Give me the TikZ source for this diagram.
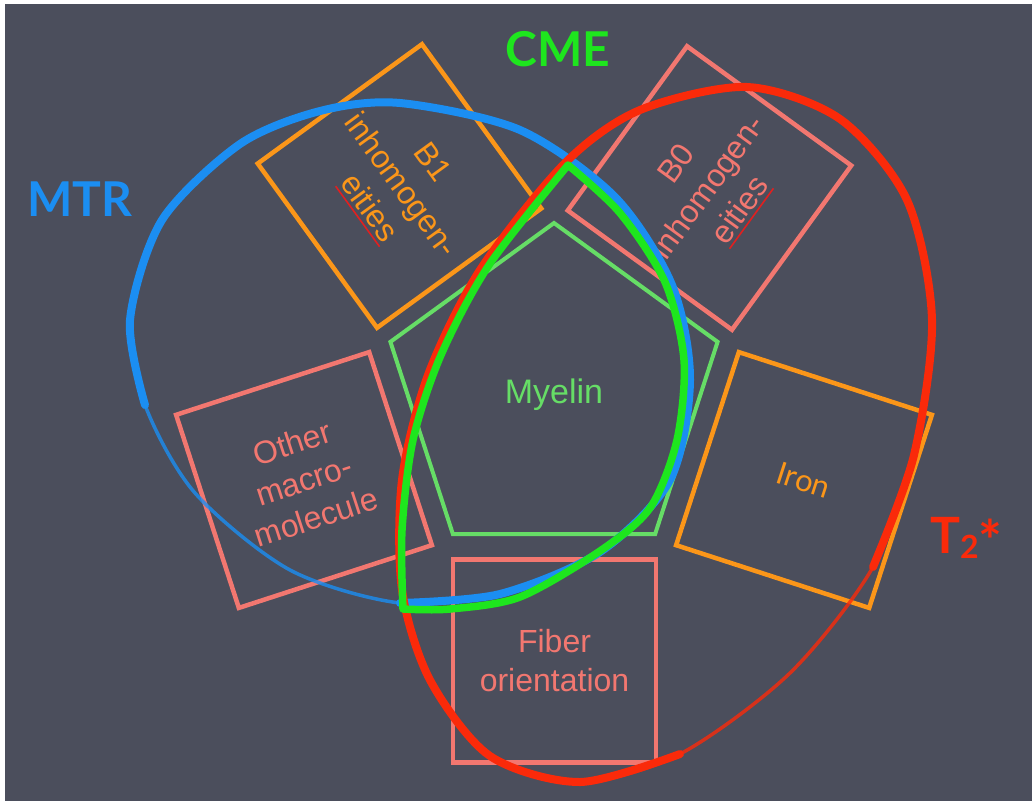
\documentclass[tikz,border=0pt]{standalone}
\usepackage{fontspec}
\setmainfont{Liberation Sans}
\newfontfamily\titlefont{Lato}
\usetikzlibrary{shapes.geometric}
\definecolor{board}{HTML}{4B4E5C}
\definecolor{mtrblue}{HTML}{1B8EF2}
\definecolor{t2red}{HTML}{FA2A0A}
\definecolor{cmegreen}{HTML}{1EE61E}
\definecolor{myelingreen}{HTML}{66DD66}
\definecolor{chalkorange}{HTML}{FB9619}
\definecolor{salmon}{HTML}{F27770}
\definecolor{spellred}{HTML}{E02020}
\newcommand\spellul[1]{\setbox0\hbox{#1}\rlap{\color{spellred}\rule[-0.16em]{\wd0}{0.05em}}#1}
\tikzset{
  sqbox/.style={draw, line width=4.5pt, minimum size=203pt, inner sep=0pt, align=center,
     font=\fontsize{32}{39}\selectfont},
  title/.style={font=\titlefont\bfseries\fontsize{48}{50}\selectfont, inner sep=0pt},
  thinchalk/.style={line width=3.5pt, opacity=0.8},
  thickchalk/.style={line width=8pt, line cap=round},
}
\begin{document}
\begin{tikzpicture}[x=1pt,y=-1pt]
\useasboundingbox (0,0) rectangle (1032,801);
\fill[white] (0,0) rectangle (1032,801);
\fill[board] (5,4) rectangle (1032,801);

% boxes
\node[sqbox, draw=chalkorange, text=chalkorange, rotate=-54] (b1) at (399.5,186) {B1\\inhomogen-\\\spellul{eities}};
\node[sqbox, draw=salmon, text=salmon, rotate=54] (b0) at (709.5,188) {B0\\inhomogen-\\\spellul{eities}};
\node[sqbox, draw=salmon, text=salmon, rotate=18] (macro) at (304,480) {Other\\macro-\\molecule};
\node[sqbox, draw=chalkorange, text=chalkorange, rotate=-18, font=\titlefont\fontsize{31}{36}\selectfont] (iron) at (804,480) {Iron};
\node[sqbox, draw=salmon, text=salmon] (fiber) at (554.5,661) {Fiber\\orientation};
\node[draw=myelingreen, text=myelingreen, line width=4pt, regular polygon, regular polygon sides=5,
  minimum size=344pt, inner sep=0pt, font=\fontsize{34}{40}\selectfont] (myelin) at (554,395) {Myelin};

% MTR (blue)
\draw[mtrblue, thinchalk] plot[smooth cycle] coordinates {
 (400,103) (520,130) (615,197) (672,285) (690,380) (670,480) (600,552) (500,594)
 (400,603) (290,570) (195,493) (145,405) (130,320) (162,220) (240,144) (320,111)};
\draw[mtrblue, thickchalk] plot[smooth] coordinates {
 (145,405) (130,320) (162,220) (240,144) (320,111)
 (400,103) (520,130) (615,197) (672,285) (690,380) (670,480) (600,552) (500,594) (400,603)};

% T2* (red)
\draw[t2red, thinchalk] plot[smooth cycle] coordinates {
 (565,163) (640,110) (747,87) (840,119) (907,200) (932,320) (914,455) (873,567)
 (790,673) (680,754) (580,782) (490,756) (430,680) (402,590) (402,480) (428,375) (480,270)};
\draw[t2red, thickchalk] plot[smooth] coordinates {
 (680,754) (580,782) (490,756) (430,680) (402,590) (402,480) (428,375) (480,270)
 (565,163) (640,110) (747,87) (840,119) (907,200) (932,320) (914,455) (873,567)};

% CME (green)
\draw[cmegreen, line width=7.5pt, line join=round] plot[smooth] coordinates {
 (568,165) (620,213) (665,282) (684,360) (677,440) (650,508) (600,551) (520,597) (450,609) (403,609)}
 -- plot[smooth] coordinates {(403,609) (402,530) (413,440) (441,355) (489,265) (568,165)} -- cycle;

% titles
\node[title, text=cmegreen] (cme) at (558,49.5) {CME};
\node[title, text=mtrblue] (mtr) at (80,199.5) {MTR};
\node[title, text=t2red, anchor=base west, font=\titlefont\bfseries\fontsize{50}{52}\selectfont] (t2) at (930,553)
  {T{\fontsize{32}{32}\selectfont\raisebox{-5pt}{2}}{\fontsize{56}{56}\selectfont\raisebox{-8pt}{*}}};
\end{tikzpicture}
\end{document}
